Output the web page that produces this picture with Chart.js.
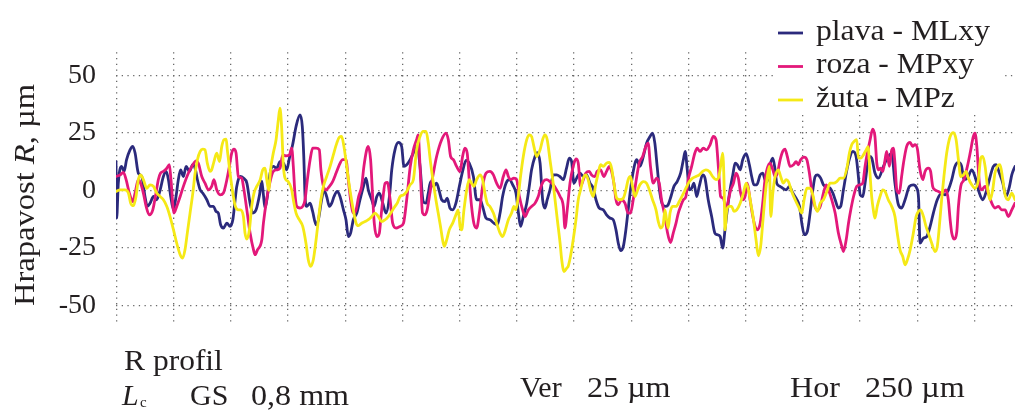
<!DOCTYPE html>
<html>
<head>
  <script src="https://cdn.jsdelivr.net/npm/chart.js"></script>
  <style>
    html, body { margin: 0; padding: 0; background: #fff; }
  </style>
</head>
<body>
  <canvas id="profileChart" width="1015" height="412"></canvas>

  <script>
    // series labels and colours
    const seriesNames = ['plava - MLxy', 'roza - MPxy', 'žuta - MPz'];
    const seriesColors = ['#2b2a7c', '#e3187a', '#f5e916'];

    // y ticks (µm) and vertical grid positions along the profile (µm)
    const yTicks = [-50, -25, 0, 25, 50];
    const xGrid = [2, 251, 500, 748, 997, 1246, 1494, 1743, 1992, 2240, 2489, 2738, 2986, 3235, 3484, 3733];

    // profiles: [position µm, roughness µm]
    const plava = [[0,12.5],[3,-12.1],[10,3.1],[25,10.4],[35,8.2],[46,13.3],[61,17.6],[73,19.1],[83,16.2],[97,7.5],[112,6.0],[126,-2.7],[136,-7.0],[148,-5.6],[163,-2.7],[177,-4.1],[192,0.2],[206,6.0],[218,8.2],[228,4.6],[238,-2.7],[250,-8.5],[261,-2.7],[271,4.6],[281,8.9],[293,6.0],[305,10.4],[319,8.2],[334,11.1],[344,9.6],[354,4.6],[366,0.2],[377,-1.2],[395,-4.1],[409,-7.0],[424,-7.0],[435,-9.2],[445,-9.9],[455,-15.0],[467,-16.4],[482,-14.3],[496,-15.7],[508,-12.8],[518,-4.1],[525,1.7],[540,6.0],[554,5.3],[569,3.1],[583,-5.6],[595,-9.9],[609,-8.5],[624,-2.0],[634,4.0],[640,-1.0],[648,-7.7],[658,-2.7],[670,7.5],[684,10.4],[699,9.6],[713,12.5],[728,11.8],[742,8.9],[754,14.0],[768,19.8],[783,27.8],[800,32.8],[810,27.8],[817,13.3],[822,-2.7],[829,-7.0],[844,-5.6],[855,-9.2],[870,-15.0],[880,-12.8],[894,-4.1],[904,0.2],[916,-2.7],[928,-7.0],[938,-5.6],[948,-2.7],[962,-0.5],[974,-2.7],[989,-8.5],[1000,-12.8],[1010,-20.1],[1020,-18.6],[1032,-12.8],[1047,-9.9],[1061,-4.1],[1076,1.7],[1087,5.3],[1097,0.2],[1112,-4.1],[1122,-7.0],[1134,-2.7],[1145,-1.2],[1160,-5.6],[1174,-9.9],[1189,-2.7],[1199,8.9],[1213,17.6],[1228,20.8],[1242,19.1],[1252,10.4],[1264,11.1],[1279,13.3],[1293,16.2],[1310,19.1],[1322,10.4],[1336,-4.9],[1348,-5.6],[1358,-1.2],[1368,3.8],[1380,1.7],[1394,3.1],[1406,-0.5],[1416,-4.1],[1430,-4.9],[1440,-3.4],[1452,-7.7],[1464,-8.5],[1478,-5.6],[1493,1.7],[1507,8.2],[1522,13.0],[1536,11.8],[1554,6.0],[1568,-4.1],[1583,-4.1],[1594,-7.0],[1609,-12.1],[1626,-12.8],[1643,-14.3],[1658,-15.0],[1670,-9.9],[1681,-2.7],[1696,3.1],[1710,4.6],[1725,2.4],[1739,-1.2],[1749,-9.2],[1759,-15.7],[1771,-11.4],[1786,-5.6],[1797,1.7],[1807,8.9],[1822,14.7],[1832,16.4],[1844,11.8],[1855,-4.1],[1865,-7.7],[1875,-4.1],[1887,0.2],[1902,6.7],[1916,6.7],[1930,6.0],[1945,4.6],[1959,9.6],[1971,14.0],[1981,12.5],[1991,3.1],[2003,5.3],[2017,7.5],[2032,6.0],[2046,6.7],[2061,3.1],[2075,0.9],[2087,-4.1],[2101,-7.7],[2119,-8.5],[2133,-10.7],[2148,-12.1],[2162,-12.8],[2174,-17.2],[2184,-23.0],[2194,-26.2],[2206,-24.4],[2217,-17.2],[2227,-8.5],[2237,0.2],[2249,8.2],[2264,13.3],[2278,10.4],[2293,14.7],[2307,20.5],[2322,23.4],[2333,24.9],[2343,20.5],[2353,10.4],[2365,-1.2],[2377,-6.3],[2391,-7.0],[2401,-6.3],[2413,-2.7],[2426,1.7],[2440,3.8],[2455,7.5],[2467,13.3],[2475,16.9],[2484,8.9],[2493,0.2],[2503,0.9],[2513,3.1],[2525,-2.7],[2536,1.7],[2551,6.7],[2561,5.3],[2575,-4.1],[2590,-11.4],[2604,-18.6],[2614,-19.3],[2627,-20.1],[2638,-25.1],[2648,-17.2],[2658,-8.5],[2670,0.2],[2682,6.7],[2692,11.8],[2702,11.1],[2714,8.9],[2725,13.3],[2740,15.9],[2754,11.1],[2764,6.0],[2774,2.4],[2786,2.4],[2801,6.7],[2812,7.5],[2822,4.6],[2832,3.8],[2844,11.1],[2856,14.0],[2866,8.9],[2873,3.1],[2888,1.7],[2899,0.9],[2914,0.2],[2928,1.7],[2943,-1.2],[2957,-3.4],[2972,-7.0],[2982,-14.3],[2993,-19.3],[3006,-17.9],[3018,-9.9],[3030,0.2],[3040,6.0],[3050,6.7],[3064,5.3],[3076,2.4],[3091,1.7],[3105,0.9],[3117,-1.2],[3127,-4.1],[3141,-7.7],[3151,-7.0],[3163,0.2],[3178,8.9],[3192,14.7],[3204,16.9],[3218,14.7],[3228,6.0],[3236,-2.0],[3247,-2.7],[3257,3.1],[3267,10.4],[3276,14.7],[3286,14.0],[3300,7.5],[3315,5.3],[3337,10.4],[3358,14.7],[3373,15.9],[3387,3.1],[3402,-6.3],[3416,-7.7],[3431,-4.1],[3450,1.7],[3467,2.4],[3482,0.9],[3490,-4.1],[3496,-23.0],[3511,-20.8],[3525,-20.1],[3540,-15.7],[3554,-9.9],[3571,-4.1],[3590,-1.2],[3605,-2.0],[3619,0.2],[3634,4.6],[3648,10.4],[3663,12.1],[3677,10.4],[3687,4.6],[3702,5.3],[3721,8.9],[3735,6.0],[3745,2.4],[3754,-1.2],[3769,-4.1],[3786,0.2],[3801,6.0],[3815,10.4],[3827,11.1],[3841,7.5],[3856,3.1],[3870,-2.7],[3885,1.7],[3895,6.7],[3909,10.4]];

    const roza = [[0,6.0],[18,6.7],[32,7.8],[44,4.6],[58,-1.2],[73,-4.9],[83,-1.2],[97,4.6],[107,3.1],[119,-1.2],[131,-7.0],[145,-10.7],[160,-8.5],[174,-1.2],[184,4.6],[194,7.5],[206,8.2],[221,9.6],[232,11.1],[239,4.6],[252,-9.9],[264,-7.0],[279,-2.7],[293,1.7],[315,7.5],[334,11.1],[348,12.8],[358,11.8],[373,6.0],[387,3.1],[402,0.2],[416,1.7],[426,4.6],[438,0.2],[453,-2.0],[467,-1.2],[482,4.6],[493,10.4],[503,16.2],[513,17.9],[522,16.2],[532,6.0],[547,5.3],[554,1.7],[569,-8.5],[583,-18.6],[598,-25.9],[605,-28.0],[615,-25.9],[634,-21.5],[641,-14.3],[655,-4.1],[670,3.8],[684,8.2],[699,8.9],[713,9.6],[725,15.4],[739,15.0],[754,15.4],[764,18.3],[771,10.4],[778,-1.2],[786,-7.0],[800,-7.7],[812,-7.0],[822,-4.1],[832,4.6],[844,13.3],[855,18.3],[870,18.3],[884,17.6],[891,8.9],[902,1.7],[913,0.2],[928,1.7],[942,3.8],[957,7.5],[971,11.1],[986,13.3],[1000,13.3],[1010,4.6],[1020,-4.1],[1032,-9.9],[1044,-8.5],[1055,-2.7],[1068,1.7],[1078,10.4],[1090,17.6],[1097,19.1],[1107,13.3],[1116,-2.7],[1123,-14.3],[1134,-20.1],[1145,-18.6],[1151,-12.8],[1160,-4.1],[1170,3.1],[1180,3.4],[1192,-4.1],[1203,-14.3],[1218,-16.4],[1235,-15.7],[1250,-14.3],[1264,-4.1],[1279,10.0],[1293,17.6],[1307,22.0],[1314,24.1],[1322,10.4],[1333,-9.9],[1343,-10.7],[1353,-8.5],[1365,-1.2],[1380,7.5],[1394,14.7],[1416,22.0],[1435,24.9],[1445,22.0],[1455,14.7],[1467,13.3],[1481,10.4],[1496,8.2],[1507,14.7],[1517,18.3],[1527,16.2],[1536,4.6],[1546,-7.0],[1556,-14.3],[1568,-16.4],[1580,-9.9],[1594,1.7],[1609,7.5],[1626,8.2],[1641,6.7],[1655,3.1],[1670,0.9],[1684,6.0],[1696,8.9],[1706,6.0],[1716,4.6],[1730,5.3],[1742,4.6],[1754,-2.7],[1768,-8.5],[1778,-11.4],[1793,-8.5],[1807,-7.0],[1822,-5.6],[1836,-2.7],[1846,0.9],[1858,3.8],[1873,4.6],[1887,3.8],[1902,2.4],[1916,0.2],[1931,-2.7],[1945,-7.0],[1952,-16.4],[1962,-8.5],[1974,3.1],[1988,10.4],[2000,13.6],[2010,11.8],[2020,1.7],[2032,4.6],[2043,7.5],[2058,8.2],[2068,6.7],[2082,6.0],[2092,8.2],[2107,8.9],[2121,6.0],[2133,8.2],[2145,10.4],[2155,8.2],[2165,3.1],[2174,-4.1],[2184,-6.3],[2198,-4.1],[2213,-5.6],[2227,-9.9],[2237,-9.9],[2249,-4.1],[2261,3.8],[2275,11.8],[2290,14.7],[2304,19.1],[2314,20.5],[2324,10.4],[2336,3.1],[2351,5.3],[2362,3.1],[2372,-4.1],[2387,-11.4],[2397,-17.9],[2411,-22.7],[2423,-18.6],[2435,-14.3],[2445,-9.9],[2455,-7.0],[2467,-4.1],[2478,-2.7],[2488,4.6],[2503,10.4],[2517,16.2],[2527,18.3],[2539,16.9],[2554,18.3],[2568,17.6],[2583,19.8],[2597,23.4],[2609,22.0],[2619,10.4],[2629,-2.7],[2641,-3.4],[2653,-8.5],[2663,-4.1],[2673,0.2],[2685,3.1],[2696,7.5],[2706,5.3],[2716,-1.2],[2725,-4.1],[2735,-2.7],[2745,3.1],[2757,-4.1],[2769,-11.4],[2779,-15.7],[2789,-17.2],[2801,-14.3],[2812,-5.6],[2822,4.6],[2832,9.6],[2844,11.8],[2856,8.9],[2866,6.0],[2876,7.5],[2888,13.3],[2899,16.9],[2909,17.9],[2919,14.7],[2931,10.4],[2946,11.1],[2957,12.5],[2967,11.1],[2977,13.3],[2992,14.4],[3004,13.3],[3015,7.5],[3025,0.2],[3035,-5.6],[3047,-8.5],[3062,-7.0],[3076,-1.2],[3088,2.4],[3098,0.2],[3112,-4.1],[3127,-9.9],[3141,-18.6],[3156,-24.4],[3163,-26.6],[3175,-21.5],[3185,-14.3],[3195,-8.5],[3207,-2.7],[3221,1.7],[3236,2.4],[3247,3.1],[3257,10.4],[3267,16.2],[3279,22.0],[3290,26.6],[3300,23.4],[3308,11.8],[3315,8.9],[3325,9.6],[3334,8.2],[3344,13.3],[3351,16.9],[3363,10.4],[3373,17.6],[3380,18.3],[3387,11.8],[3395,0.2],[3406,-1.2],[3416,6.0],[3424,11.8],[3438,19.1],[3453,20.8],[3464,19.1],[3474,19.8],[3484,18.3],[3496,8.9],[3508,4.6],[3518,8.2],[3532,9.6],[3542,8.2],[3551,1.7],[3561,0.2],[3576,-0.5],[3590,-1.2],[3609,0.2],[3619,-4.1],[3627,-12.8],[3634,-18.6],[3644,-21.2],[3656,-17.9],[3663,-7.0],[3673,1.7],[3687,4.6],[3702,10.4],[3714,16.2],[3728,23.4],[3735,24.9],[3743,19.1],[3754,3.1],[3764,0.2],[3779,1.7],[3793,-1.2],[3808,-5.6],[3822,-7.7],[3837,-7.0],[3851,-8.5],[3866,-8.5],[3880,-11.4],[3895,-8.5],[3909,-5.6]];

    const zuta = [[0,-0.5],[18,0.2],[39,0.2],[54,-1.2],[64,-5.6],[76,-6.7],[87,-2.7],[97,4.6],[107,6.7],[119,4.6],[134,0.9],[148,2.4],[163,1.7],[177,-1.2],[192,-2.7],[206,-4.1],[221,-7.0],[235,-11.4],[250,-17.2],[264,-23.0],[279,-28.0],[290,-29.5],[300,-25.9],[310,-18.6],[322,-9.9],[334,-1.2],[344,7.5],[354,13.3],[366,16.9],[377,17.9],[387,17.6],[397,11.8],[409,8.2],[416,8.9],[426,12.5],[438,16.2],[450,12.5],[460,19.1],[470,22.0],[479,22.2],[484,17.6],[496,7.5],[508,-1.2],[519,-7.0],[532,-8.5],[542,-8.5],[554,-11.4],[561,-18.6],[569,-21.2],[580,-17.2],[590,-7.0],[600,-1.2],[612,1.7],[627,4.6],[638,8.9],[648,9.6],[655,5.0],[664,0.0],[672,8.9],[684,16.2],[696,22.0],[706,30.7],[713,35.7],[720,27.8],[728,10.4],[735,5.3],[749,3.8],[764,0.2],[771,-4.1],[783,-9.9],[797,-12.8],[812,-15.7],[826,-23.0],[836,-30.2],[846,-33.1],[858,-30.2],[870,-21.5],[880,-12.8],[891,-4.1],[902,1.7],[916,6.0],[931,10.4],[945,15.4],[960,20.5],[971,23.1],[981,23.4],[991,19.1],[1003,10.4],[1015,1.7],[1029,-7.0],[1044,-14.3],[1054,-15.4],[1068,-14.3],[1083,-13.6],[1097,-12.8],[1112,-11.4],[1126,-9.9],[1141,-11.4],[1155,-13.6],[1170,-12.8],[1184,-11.4],[1199,-9.2],[1213,-7.0],[1223,-5.6],[1235,-2.7],[1250,-2.0],[1264,-0.5],[1279,2.4],[1293,4.6],[1307,17.6],[1322,23.4],[1336,25.6],[1348,25.6],[1358,20.5],[1368,11.8],[1380,3.1],[1391,-4.1],[1401,-9.9],[1411,-15.7],[1420,-21.5],[1427,-24.4],[1438,-21.5],[1449,-17.2],[1464,-14.3],[1481,-9.9],[1488,-8.5],[1496,-15.7],[1503,-17.2],[1513,-8.5],[1525,0.2],[1536,4.6],[1546,3.1],[1556,1.7],[1568,4.6],[1583,6.7],[1594,4.6],[1604,-1.2],[1614,-5.6],[1626,-7.0],[1641,-9.9],[1655,-14.3],[1670,-18.6],[1681,-20.1],[1691,-17.9],[1706,-12.8],[1720,-9.9],[1730,-7.0],[1739,-8.5],[1749,-2.7],[1759,6.0],[1771,14.7],[1786,22.0],[1797,24.1],[1807,23.4],[1817,19.1],[1829,14.7],[1844,17.6],[1855,22.0],[1865,24.1],[1875,22.0],[1887,13.3],[1899,4.6],[1909,-4.1],[1919,-12.8],[1931,-23.0],[1938,-30.2],[1948,-35.3],[1960,-33.8],[1966,-33.1],[1976,-28.8],[1988,-21.5],[2000,-12.8],[2010,-4.1],[2020,0.2],[2032,5.3],[2043,6.7],[2053,4.6],[2063,0.2],[2075,-2.7],[2087,3.1],[2097,7.5],[2107,11.1],[2119,10.4],[2133,11.8],[2145,12.1],[2155,9.6],[2165,3.1],[2177,-3.4],[2191,-4.1],[2206,-3.4],[2217,0.2],[2227,4.6],[2237,6.0],[2246,1.7],[2256,-2.7],[2266,-0.5],[2278,2.4],[2293,3.8],[2307,3.1],[2319,0.2],[2333,-4.1],[2348,-8.5],[2358,-13.6],[2368,-16.4],[2380,-14.3],[2387,-8.5],[2394,-12.8],[2401,-16.4],[2409,-9.9],[2420,-7.0],[2435,-7.0],[2449,-4.9],[2464,-2.0],[2478,0.9],[2493,3.8],[2507,5.3],[2522,6.0],[2536,6.7],[2551,8.2],[2565,8.9],[2580,8.2],[2594,6.0],[2609,4.6],[2619,5.3],[2629,10.4],[2638,16.2],[2644,3.1],[2648,-17.2],[2656,-8.5],[2667,-7.0],[2677,-7.0],[2687,-9.2],[2699,-8.5],[2714,-5.6],[2728,-1.2],[2740,3.1],[2750,0.2],[2760,-5.6],[2772,-12.8],[2783,-21.5],[2793,-28.5],[2803,-24.4],[2812,-14.3],[2822,-2.7],[2832,6.0],[2841,10.4],[2847,-11.4],[2856,-1.2],[2866,6.0],[2880,8.9],[2890,6.0],[2902,3.1],[2914,4.6],[2924,3.8],[2938,-0.5],[2953,-4.1],[2967,-7.0],[2982,-9.9],[2992,-4.1],[3004,0.9],[3018,0.9],[3030,-2.0],[3040,-7.0],[3050,-9.2],[3062,-5.6],[3076,-4.1],[3091,-0.5],[3105,3.1],[3120,3.1],[3134,3.8],[3149,5.3],[3163,5.3],[3178,9.6],[3189,16.2],[3199,19.8],[3209,21.2],[3221,22.0],[3228,14.0],[3238,14.0],[3250,15.4],[3262,17.6],[3270,19.0],[3278,8.0],[3286,-3.0],[3293,-8.5],[3300,-12.1],[3310,-7.0],[3322,-2.7],[3334,0.2],[3344,-0.5],[3358,-4.1],[3373,-7.0],[3387,-11.4],[3397,-18.6],[3409,-25.9],[3421,-28.8],[3431,-32.4],[3441,-30.2],[3453,-25.9],[3467,-18.6],[3479,-11.4],[3489,-9.2],[3499,-8.5],[3511,-11.4],[3522,-15.7],[3532,-18.6],[3547,-23.0],[3561,-26.6],[3571,-24.4],[3580,-15.7],[3590,-4.1],[3600,6.0],[3612,16.2],[3627,23.4],[3641,25.1],[3653,22.0],[3663,13.3],[3673,6.0],[3685,6.7],[3696,8.2],[3706,5.3],[3721,2.4],[3735,0.9],[3750,4.6],[3760,14.0],[3769,14.7],[3779,10.4],[3789,1.7],[3801,-4.1],[3812,0.2],[3822,7.5],[3832,10.4],[3844,11.1],[3856,4.6],[3866,-2.0],[3880,-4.1],[3895,-1.2],[3909,-4.1]];

    const profiles = [plava, roza, zuta];

    const SERIF = '"Liberation Serif", "Times New Roman", serif';
    const INK = '#231f20';

    // draws text squeezed/stretched along its reading direction
    function drawRun(ctx, parts, x, y, sx) {
      ctx.save();
      ctx.translate(x, y);
      ctx.scale(sx, 1);
      let cx = 0;
      parts.forEach(p => {
        ctx.font = p.font;
        ctx.fillText(p.text, cx, p.dy || 0);
        cx += ctx.measureText(p.text).width + (p.gap || 0);
      });
      ctx.restore();
    }

    const whiteBg = {
      id: 'whiteBg',
      beforeDraw(chart) {
        const c = chart.ctx;
        c.save();
        c.fillStyle = '#fff';
        c.fillRect(0, 0, chart.width, chart.height);
        c.restore();
      }
    };

    const annotations = {
      id: 'annotations',
      afterDraw(chart) {
        const c = chart.ctx;
        c.save();
        c.fillStyle = INK;
        c.textBaseline = 'alphabetic';
        c.textAlign = 'left';

        // y title, rotated, with italic R
        const tParts = [
          { text: 'Hrapavost ', font: '29px ' + SERIF },
          { text: 'R', font: 'italic 29px ' + SERIF },
          { text: ', µm', font: '29px ' + SERIF }
        ];
        let tw = 0;
        tParts.forEach(p => { c.font = p.font; tw += c.measureText(p.text).width; });
        const tLen = 222;
        c.save();
        c.translate(34, 195);
        c.rotate(-Math.PI / 2);
        drawRun(c, tParts, -tLen / 2, 0, tLen / tw);
        c.restore();

        // footer texts
        const f = '30px ' + SERIF;
        drawRun(c, [{ text: 'R profil', font: f }], 124, 370, 1.05);
        drawRun(c, [{ text: 'L', font: 'italic 30px ' + SERIF }], 122, 405, 1.0);
        drawRun(c, [{ text: 'c', font: '15px ' + SERIF }], 140, 407, 1.0);
        drawRun(c, [{ text: 'GS', font: f }], 190, 405, 1.0);
        drawRun(c, [{ text: '0,8 mm', font: f }], 251, 405, 1.07);
        drawRun(c, [{ text: 'Ver', font: f }], 520, 397, 1.0);
        drawRun(c, [{ text: '25 µm', font: f }], 587, 397, 1.07);
        drawRun(c, [{ text: 'Hor', font: f }], 790, 397, 1.07);
        drawRun(c, [{ text: '250 µm', font: f }], 865, 397, 1.07);

        // legend on a white patch
        c.fillStyle = '#fff';
        c.fillRect(777, 14, 228, 100);
        const lf = '29px ' + SERIF;
        c.font = lf;
        const lsx = 174 / c.measureText(seriesNames[0]).width;
        chart.data.datasets.forEach((ds, i) => {
          const ly = 33 + i * 33.5;
          c.strokeStyle = ds.borderColor;
          c.lineWidth = 2.8;
          c.beginPath();
          c.moveTo(778, ly);
          c.lineTo(803, ly);
          c.stroke();
          c.fillStyle = INK;
          drawRun(c, [{ text: ds.label, font: lf }], 816, ly + 6.5, lsx);
        });
        c.restore();
      }
    };

    const gridStyle = { color: '#6a6a6a', lineWidth: 1.3, drawTicks: false };
    const gridBorder = { display: false, dash: [1.3, 4.4] };

    const ctx = document.getElementById('profileChart').getContext('2d');
    const profileChart = new Chart(ctx, {
      type: 'line',
      data: {
        datasets: profiles.map((pts, i) => ({
          label: seriesNames[i],
          data: pts.map(p => ({ x: p[0], y: p[1] })),
          borderColor: seriesColors[i],
          backgroundColor: seriesColors[i],
          borderWidth: 2.8,
          pointRadius: 0,
          fill: false,
          cubicInterpolationMode: 'monotone',
          borderJoinStyle: 'round',
          borderCapStyle: 'round',
          order: 2 - i
        }))
      },
      options: {
        responsive: false,
        animation: false,
        events: [],
        layout: { padding: { left: 0, right: 0, top: 52.3, bottom: 89.45 } },
        scales: {
          x: {
            type: 'linear',
            min: 0,
            max: 3909,
            afterBuildTicks: s => { s.ticks = xGrid.map(v => ({ value: v })); },
            afterFit: s => { s.height = 0; },
            ticks: { display: false },
            grid: gridStyle,
            border: gridBorder
          },
          y: {
            min: -57.5,
            max: 60,
            afterBuildTicks: s => { s.ticks = yTicks.map(v => ({ value: v })); },
            afterFit: s => { s.width = 116; },
            ticks: {
              padding: 20,
              color: INK,
              font: { family: SERIF, size: 28 }
            },
            grid: gridStyle,
            border: gridBorder
          }
        },
        plugins: {
          legend: { display: false },
          tooltip: { enabled: false }
        }
      },
      plugins: [whiteBg, annotations]
    });
  </script>
</body>
</html>
